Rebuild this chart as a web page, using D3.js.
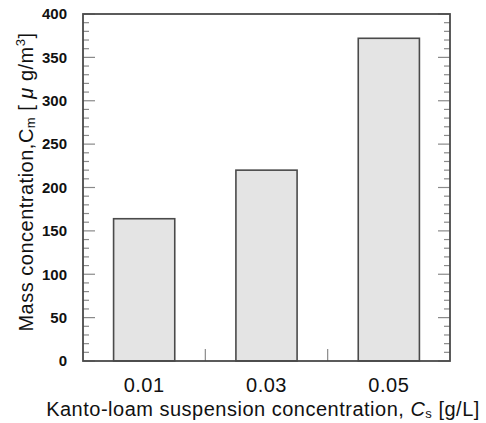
<!DOCTYPE html>
<html>
<head>
<meta charset="utf-8">
<script src="https://cdn.jsdelivr.net/npm/d3@7"></script>
<style>
  html, body { margin: 0; padding: 0; background: #ffffff; }
  svg text { font-family: "Liberation Sans", Arial, sans-serif; fill: #111; }
</style>
</head>
<body>
<svg id="chart" width="486" height="423"></svg>
<script>
// Mass concentration measured for each Kanto-loam suspension concentration
const categories = ["0.01", "0.03", "0.05"];
const massValues = [164, 220, 372];
const yTickValues = [0, 50, 100, 150, 200, 250, 300, 350, 400];

const svg = d3.select("#chart");
const margin = { left: 83, right: 36, top: 14, bottom: 62 };
const W = 486, H = 423;
const x0 = margin.left, x1 = W - margin.right;
const y0 = H - margin.bottom, y1 = margin.top;

const x = d3.scaleBand().domain(categories).range([x0, x1])
  .paddingInner(0.5).paddingOuter(0.25);
const y = d3.scaleLinear().domain([0, 400]).range([y0, y1]);

const frameColor = "#4a4a4a";
const tickColor = "#8a8a8a";

// bars
svg.append("g").selectAll("rect")
  .data(massValues)
  .join("rect")
  .attr("x", (d, i) => x(categories[i]))
  .attr("y", d => y(d))
  .attr("width", x.bandwidth())
  .attr("height", d => y(0) - y(d))
  .attr("fill", "#e4e4e4")
  .attr("stroke", frameColor)
  .attr("stroke-width", 1.6);

// inward ticks on left and right: major every 50, minor every 10
const minor = d3.range(0, 401, 10).filter(v => v % 50 !== 0);
const tg = svg.append("g").attr("stroke", tickColor).attr("stroke-width", 1.2);
[[x0, 1], [x1, -1]].forEach(([xe, dir]) => {
  tg.selectAll(null).data(yTickValues).join("line")
    .attr("x1", xe).attr("x2", xe + dir * 12)
    .attr("y1", d => y(d)).attr("y2", d => y(d));
  tg.selectAll(null).data(minor).join("line")
    .attr("x1", xe).attr("x2", xe + dir * 6)
    .attr("y1", d => y(d)).attr("y2", d => y(d));
});

// bottom ticks between categories
const step = x.step();
const between = categories.slice(1).map(c => x(c) - (step - x.bandwidth()) / 2);
tg.selectAll(null).data(between).join("line")
  .attr("x1", d => d).attr("x2", d => d)
  .attr("y1", y0).attr("y2", y0 - 12);

// frame
svg.append("rect")
  .attr("x", x0).attr("y", y1)
  .attr("width", x1 - x0).attr("height", y0 - y1)
  .attr("fill", "none").attr("stroke", frameColor).attr("stroke-width", 1.8);

// y tick labels
svg.append("g").selectAll("text")
  .data(yTickValues).join("text")
  .attr("x", 67).attr("y", d => y(d))
  .attr("dy", "0.35em")
  .attr("text-anchor", "end")
  .attr("font-size", 15)
  .attr("font-weight", "bold")
  .text(d => d);

// x tick labels
svg.append("g").selectAll("text")
  .data(categories).join("text")
  .attr("x", d => x(d) + x.bandwidth() / 2)
  .attr("y", 392)
  .attr("text-anchor", "middle")
  .attr("font-size", 20)
  .attr("letter-spacing", 0.5)
  .text(d => d);

// x axis title
const xt = svg.append("text")
  .attr("x", 263).attr("y", 416)
  .attr("text-anchor", "middle")
  .attr("font-size", 20)
  .attr("letter-spacing", 0.5);
xt.append("tspan").text("Kanto-loam suspension concentration, ");
xt.append("tspan").attr("font-style", "italic").text("C");
xt.append("tspan").attr("font-size", 13).attr("dy", 2).text("s");
xt.append("tspan").attr("dy", -2).text(" [g/L]");

// y axis title
const yt = svg.append("text")
  .attr("transform", "translate(33,182) rotate(-90)")
  .attr("text-anchor", "middle")
  .attr("font-size", 20)
  .attr("letter-spacing", 0.5);
yt.append("tspan").text("Mass concentration,C");
yt.append("tspan").attr("font-size", 13).attr("dy", 2).text("m");
yt.append("tspan").attr("dy", -2).text(" [ ");
yt.append("tspan").attr("font-style", "italic").text("μ");
yt.append("tspan").text(" g/m");
yt.append("tspan").attr("font-size", 13).attr("dy", -8).text("3");
yt.append("tspan").attr("dy", 8).text("]");
</script>
</body>
</html>
